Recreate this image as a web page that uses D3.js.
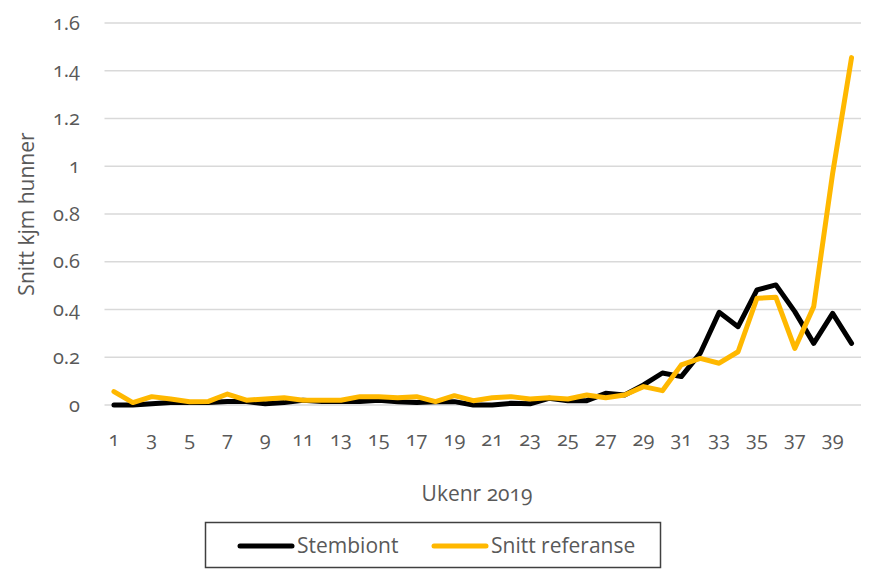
<!DOCTYPE html>
<html><head><meta charset="utf-8">
<script src="https://cdn.jsdelivr.net/npm/d3@7"></script>
<style>
body{margin:0;background:#fff;}
text{font-family:"Open Sans",Lato,sans-serif;fill:#595959;font-variant-numeric:oldstyle-nums;font-feature-settings:"onum" 1;}
</style></head>
<body><svg id="c" width="871" height="569"></svg>
<script>
const weeks = d3.range(1, 41);
const stembiont = [0,0,0.005,0.01,0.01,0.01,0.015,0.015,0.005,0.01,0.02,0.015,0.015,0.015,0.02,0.014,0.01,0.014,0.014,0,0,0.007,0.005,0.028,0.018,0.018,0.049,0.042,0.084,0.134,0.119,0.217,0.388,0.328,0.482,0.503,0.391,0.258,0.384,0.258];
const referanse = [0.056,0.01,0.035,0.025,0.014,0.015,0.046,0.02,0.025,0.03,0.02,0.02,0.02,0.035,0.035,0.03,0.035,0.014,0.039,0.018,0.03,0.035,0.025,0.03,0.025,0.042,0.03,0.042,0.077,0.06,0.168,0.195,0.175,0.223,0.447,0.451,0.237,0.412,0.97,1.455];
const yTicks = [0,0.2,0.4,0.6,0.8,1,1.2,1.4,1.6];
const seriesNames = ["Stembiont","Snitt referanse"];
const colors = ["#000000","#FFB800"];

const svg = d3.select("#c");
const x = d3.scaleBand().domain(weeks).range([104.5, 861]);
const y = d3.scaleLinear().domain([0,1.6]).range([405, 23]);

svg.append("g").selectAll("line").data(yTicks).join("line")
  .attr("x1",104.5).attr("x2",861).attr("y1",d=>y(d)).attr("y2",d=>y(d))
  .attr("stroke","#d9d9d9").attr("stroke-width",1.5);

const yAxis = d3.axisLeft(y).tickValues(yTicks).tickSize(0).tickPadding(0).tickFormat(d=>String(d));
const gy = svg.append("g").attr("transform","translate(80,0)").call(yAxis);
gy.select(".domain").remove();
gy.selectAll("text").attr("font-size",20).style("fill","#595959").attr("dy","0.3em");

const xAxis = d3.axisBottom(x).tickValues(weeks.filter(w=>w%2===1)).tickSize(0).tickPadding(0);
const gx = svg.append("g").attr("transform","translate(0,440)").call(xAxis);
gx.select(".domain").remove();
gx.selectAll("text").attr("font-size",20).style("fill","#595959").attr("dy","0.3em");
svg.selectAll("g").attr("font-family",null);

svg.append("text").attr("x",477).attr("y",501).attr("text-anchor","middle").attr("font-size",21).text("Ukenr 2019");
svg.append("text").attr("transform","translate(34,214) rotate(-90)").attr("text-anchor","middle").attr("font-size",21).text("Snitt kjm hunner");

const line = d3.line().x((d,i)=>x(weeks[i])+x.bandwidth()/2).y(d=>y(d)).curve(d3.curveLinear);
[stembiont, referanse].forEach((s,i)=>{
  svg.append("path").datum(s).attr("d",line).attr("fill","none")
    .attr("stroke",colors[i]).attr("stroke-width",5).attr("stroke-linejoin","round").attr("stroke-linecap","round");
});

svg.append("rect").attr("x",205.5).attr("y",522.5).attr("width",455).attr("height",45)
  .attr("fill","none").attr("stroke","#404040").attr("stroke-width",1.5);
const legX = [240, 434];
seriesNames.forEach((n,i)=>{
  svg.append("line").attr("x1",legX[i]).attr("x2",legX[i]+52).attr("y1",546).attr("y2",546)
    .attr("stroke",colors[i]).attr("stroke-width",5).attr("stroke-linecap","round");
  svg.append("text").attr("x",legX[i]+57).attr("y",546).attr("dy","0.34em").attr("font-size",21).text(n);
});
</script></body></html>
